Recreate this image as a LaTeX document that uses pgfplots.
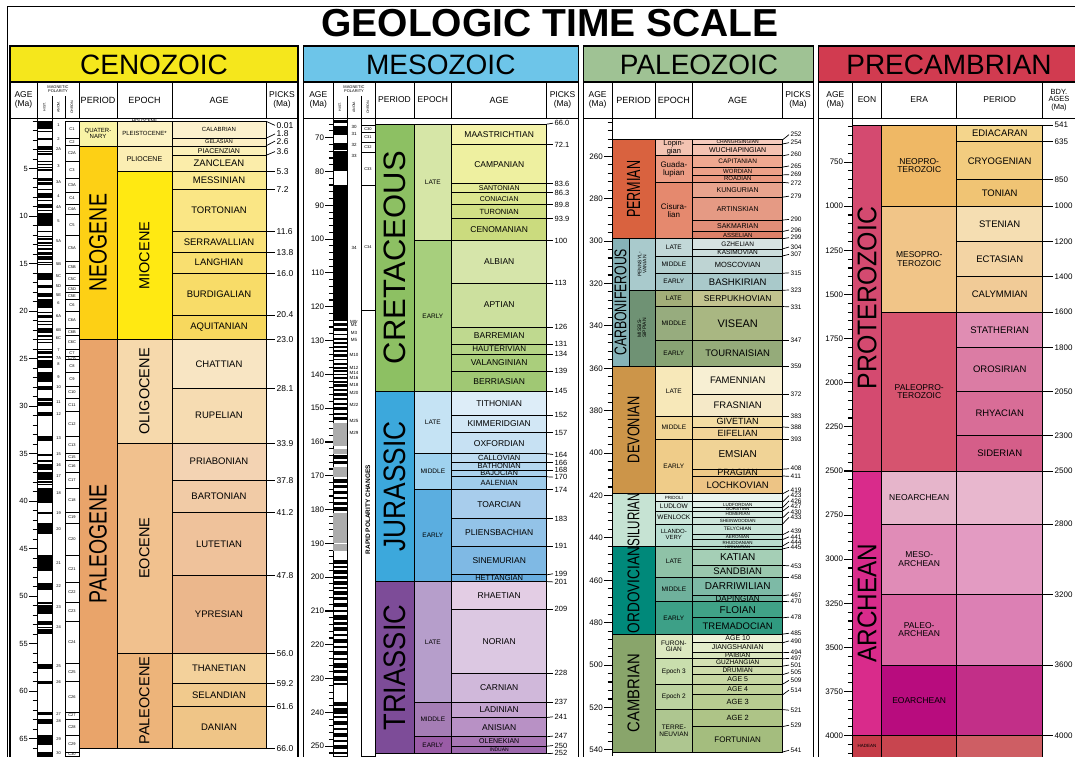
\documentclass[border=0pt]{standalone}
\usepackage{fontspec}
\setmainfont{Liberation Sans}
\usepackage{graphicx}
\usepackage{pgfplots}
\pgfplotsset{compat=1.18}

\newcommand{\fs}[1]{\fontsize{#1}{#1}\selectfont}
\newcounter{uc}
\newcommand{\R}[5]{\addplot[forget plot,#5] coordinates {(#1,#3) (#2,#3) (#2,#4) (#1,#4)} -- cycle;}
\newcommand{\U}[7]{\stepcounter{uc}%
  \edef\tmp{\noexpand\definecolor{uc\arabic{uc}}{HTML}{#5}%
    \noexpand\R{#1}{#2}{#3}{#4}{fill=uc\arabic{uc},draw=black,line width=0.7pt}}\tmp
  \path (axis cs:#1,#3) -- node[inner sep=0pt,align=center,text=black,#7]{#6} (axis cs:#2,#4);}
\newcommand{\stripes}[4]{\foreach \a/\b in {#4}{%
  \edef\tmp{\noexpand\addplot[forget plot,fill=#3,draw=none] coordinates {(#1,\a) (#2,\a) (#2,\b) (#1,\b)} -- cycle;}\tmp}}
\newcommand{\chrons}[4]{\foreach \p/\q/\nm in {#4}{%
  \edef\tmp{\noexpand\addplot[forget plot,fill=white,draw=black,line width=0.5pt] coordinates {(#1,\p) (#2,\p) (#2,\q) (#1,\q)} -- cycle;
  \noexpand\path (axis cs:#1,\p) -- node[inner sep=0pt,font=\noexpand\fs{#3}]{\nm} (axis cs:#2,\q);}\tmp}}
\newcommand{\labs}[3]{\foreach \nm/\q in {#3}{%
  \edef\tmp{\noexpand\node[inner sep=0pt,font=\noexpand\fs{#2}] at (axis cs:#1,\q) {\nm};}\tmp}}
\newcommand{\picks}[3]{\foreach \p/\q/\nm in {#3}{%
  \edef\tmp{\noexpand\draw[line width=0.7pt] (axis cs:#1,\p) -- (axis cs:#2,\q);
  \noexpand\node[anchor=west,inner sep=0pt,xshift=1.5pt,font=\noexpand\pkfont] at (axis cs:#2,\q) {\nm};}\tmp}}
\newcommand{\lab}[4]{\node[inner sep=0pt,align=center,#4] at (axis cs:#1,#2) {#3};}

\pgfplotsset{panel/.style={scale only axis, anchor=west, height=637.7pt, clip=false,
  axis x line=none, axis y line*=left, y dir=reverse, xtick=\empty,
  tick align=outside, major tick length=8pt, minor tick length=4.5pt,
  tick style={black, line width=1.1pt}, axis line style={black, line width=0.8pt},
  /pgf/number format/assume math mode=true, /pgf/number format/1000 sep={},
  yticklabel style={font=\fs{8}, inner sep=1pt}}}

\definecolor{hC}{HTML}{F5E71C}
\definecolor{hM}{HTML}{6DC5E9}
\definecolor{hP}{HTML}{9FC294}
\definecolor{hK}{HTML}{D13B50}

\begin{document}
\begin{tikzpicture}
\useasboundingbox (0,0) rectangle (1075pt,756pt);

%================ CENOZOIC =================
\def\pkfont{\fs{8.5}}
\begin{axis}[panel, at={(37pt,318.85pt)}, width=261pt, xmin=37, xmax=298, ymin=-0.3, ymax=66.83,
  ytick={5,10,...,65}, minor ytick={0,1,...,66}, yticklabel style={font=\fs{7.5}}]
\R{37}{52}{-0.3}{66.83}{fill=white,draw=black,line width=0.6pt}
\stripes{37}{52}{black}{0/0.78, 0.99/1.07, 1.78/1.95, 2.58/3.03, 3.12/3.21, 3.33/3.60, 4.19/4.30, 4.49/4.63, 4.80/4.90, 5.00/5.24, 6.03/6.25, 6.44/6.73, 7.14/7.21, 7.53/7.64, 7.70/8.11, 8.25/8.30, 8.77/9.11, 9.31/9.43, 9.65/9.72, 9.79/9.94, 9.98/11.06, 11.59/11.66, 12.05/12.17, 12.27/12.47, 12.74/12.77, 12.83/12.89, 13.03/13.18, 13.36/13.61, 13.74/14.07, 14.16/14.61, 14.78/14.87, 15.03/15.16, 15.97/16.27, 16.30/16.47, 16.54/16.72, 17.24/17.53, 18.06/18.52, 18.75/19.72, 20.04/20.21, 20.44/20.71, 21.08/21.16, 21.40/21.48, 21.77/21.94, 21.99/22.27, 22.56/22.75, 22.90/23.03, 23.23/23.30, 24.00/24.11, 24.15/24.47, 24.76/24.98, 25.10/25.26, 25.30/25.99, 26.42/27.44, 27.86/28.09, 28.14/28.28, 29.18/29.48, 29.53/29.97, 30.59/31.03, 33.16/33.71, 35.00/35.29, 35.71/35.89, 36.05/36.70, 36.97/37.75, 37.87/38.09, 38.16/38.33, 38.62/39.63, 39.70/40.15, 41.15/41.39, 42.30/43.43, 45.72/47.35, 48.57/49.34, 50.63/50.84, 50.96/51.83, 52.62/53.07, 53.20/53.27, 53.42/53.98, 57.10/57.66, 58.96/59.24, 62.22/62.52, 62.93/63.49, 64.67/65.69, 66.40/66.83}
\chrons{65}{79}{4}{0/1.78/C1, 1.78/2.58/C2, 2.58/4.19/C2A, 4.19/6.03/C3, 6.03/7.53/C3A, 7.53/8.77/C4, 8.77/9.79/C4A, 9.79/12.05/C5, 12.05/14.78/C5A, 14.78/15.97/C5B, 15.97/17.24/C5C, 17.24/18.06/C5D, 18.06/18.75/C5E, 18.75/20.04/C6, 20.04/21.77/C6A, 21.77/22.56/C6B, 22.56/24.00/C6C, 24.00/24.76/C7, 24.76/25.10/C7A, 25.10/26.42/C8, 26.42/27.86/C9, 27.86/29.18/C10, 29.18/30.59/C11, 30.59/33.16/C12, 33.16/35.00/C13, 35.00/35.71/C15, 35.71/36.97/C16, 36.97/38.62/C17, 38.62/41.15/C18, 41.15/42.30/C19, 42.30/45.72/C20, 45.72/48.57/C21, 48.57/50.63/C22, 50.63/52.62/C23, 52.62/57.10/C24, 57.10/58.96/C25, 58.96/62.22/C26, 62.22/62.93/C27, 62.93/64.67/C28, 64.67/66.40/C29, 66.40/66.83/C30}
\labs{58.5}{4}{1/0.4, 2/1.87, 2A/2.9, 3/4.7, 3A/6.4, 4/7.9, 4A/9.0, 5/10.5, 5A/12.6, 5B/15.0, 5C/16.3, 5D/17.4, 5E/18.3, 6/19.2, 6A/20.5, 6B/22.0, 6C/22.8, 7/24.1, 7A/24.9, 8/25.6, 9/26.9, 10/28.0, 11/29.6, 12/30.8, 13/33.4, 15/35.1, 16/36.2, 17/37.4, 18/39.2, 19/41.3, 20/42.9, 21/46.5, 22/48.9, 23/51.2, 24/53.3, 25/57.4, 26/59.1, 27/62.4, 28/63.2, 29/65.0, 30/66.55}
% periods
\U{79}{117}{0}{2.6}{F9F3A6}{QUATER-\\NARY}{font=\fs{6}}
\U{79}{117}{2.6}{23.0}{FDD015}{\scalebox{0.78}[1]{NEOGENE}}{rotate=90,font=\fs{25}}
\U{79}{117}{23.0}{66.0}{E9A46A}{\scalebox{0.78}[1]{PALEOGENE}}{rotate=90,font=\fs{25}}
% epochs
\U{117}{172}{0.01}{2.6}{FCF3C4}{PLEISTOCENE*}{font=\fs{6}}
\lab{144.5}{-0.02}{HOLOCENE}{font=\fs{4.5}}
\U{117}{172}{2.6}{5.3}{FBEEB3}{PLIOCENE}{font=\fs{7}}
\U{117}{172}{5.3}{23.0}{FFE912}{MIOCENE}{rotate=90,font=\fs{14.5}}
\U{117}{172}{23.0}{33.9}{F6D9AC}{OLIGOCENE}{rotate=90,font=\fs{14.5}}
\U{117}{172}{33.9}{56.0}{F1C18E}{EOCENE}{rotate=90,font=\fs{14.5}}
\U{117}{172}{56.0}{66.0}{EDB47A}{PALEOCENE}{rotate=90,font=\fs{14.5}}
% stages
\U{172}{266}{0.01}{1.8}{FCF1CD}{CALABRIAN}{font=\fs{6}}
\U{172}{266}{1.8}{2.6}{FCEFC4}{GELASIAN}{font=\fs{5.5}}
\U{172}{266}{2.6}{3.6}{FBF0B8}{PIACENZIAN}{font=\fs{7}}
\U{172}{266}{3.6}{5.3}{FBEDAA}{ZANCLEAN}{font=\fs{9.5}}
\U{172}{266}{5.3}{7.2}{FBEA92}{MESSINIAN}{font=\fs{9.5}}
\U{172}{266}{7.2}{11.6}{FAE685}{TORTONIAN}{font=\fs{9.5}}
\U{172}{266}{11.6}{13.8}{FAE27A}{SERRAVALLIAN}{font=\fs{9.5}}
\U{172}{266}{13.8}{16.0}{F9DF70}{LANGHIAN}{font=\fs{9.5}}
\U{172}{266}{16.0}{20.4}{F8DC68}{BURDIGALIAN}{font=\fs{9.5}}
\U{172}{266}{20.4}{23.0}{F7D85E}{AQUITANIAN}{font=\fs{9.5}}
\U{172}{266}{23.0}{28.1}{F8E5C3}{CHATTIAN}{font=\fs{9.5}}
\U{172}{266}{28.1}{33.9}{F6DCB2}{RUPELIAN}{font=\fs{9.5}}
\U{172}{266}{33.9}{37.8}{F3D3B3}{PRIABONIAN}{font=\fs{9.5}}
\U{172}{266}{37.8}{41.2}{F1CBA6}{BARTONIAN}{font=\fs{9.5}}
\U{172}{266}{41.2}{47.8}{EFC29B}{LUTETIAN}{font=\fs{9.5}}
\U{172}{266}{47.8}{56.0}{EBB78C}{YPRESIAN}{font=\fs{9.5}}
\U{172}{266}{56.0}{59.2}{F3D19B}{THANETIAN}{font=\fs{9.5}}
\U{172}{266}{59.2}{61.6}{F1CA8D}{SELANDIAN}{font=\fs{9.5}}
\U{172}{266}{61.6}{66.0}{EFC587}{DANIAN}{font=\fs{9.5}}
\picks{266}{275}{0.01/0.45/0.01, 1.8/1.35/1.8, 2.6/2.1/2.6, 3.6/3.2/3.6, 5.3/5.3/5.3, 7.2/7.2/7.2, 11.6/11.6/11.6, 13.8/13.8/13.8, 16.0/16.0/16.0, 20.4/20.4/20.4, 23.0/23.0/23.0, 28.1/28.1/28.1, 33.9/33.9/33.9, 37.8/37.8/37.8, 41.2/41.2/41.2, 47.8/47.8/47.8, 56.0/56.0/56.0, 59.2/59.2/59.2, 61.6/61.6/61.6, 66.0/66.0/66.0}
\end{axis}

%================ MESOZOIC =================
\def\pkfont{\fs{7.5}}
\begin{axis}[panel, at={(333.3pt,318.85pt)}, width=245pt, xmin=333.3, xmax=578.3, ymin=64.26, ymax=252.9,
  ytick={70,80,...,250}, minor ytick={66,68,...,252}]
\R{333.3}{347}{64.26}{252.9}{fill=white,draw=black,line width=0.6pt}
\stripes{333.3}{347}{gray!65}{154.3/161.3, 162.0/163.5, 167.4/170.3, 181.0/189.9, 190.2/192.4}
\stripes{333.3}{347}{black}{64.67/65.69, 66.40/68.20, 68.37/69.27, 71.45/71.69, 71.94/73.65, 73.95/74.05, 74.31/79.90, 84.0/124.2, 124.9/125.6, 126.4/127.3, 128.0/128.4, 129.1/129.9, 130.5/131.0, 131.5/132.3, 132.9/133.3, 133.9/134.9, 135.5/135.9, 136.5/137.3, 137.8/138.3, 138.8/139.4, 139.9/140.3, 140.8/141.4, 141.9/142.5, 143.0/143.6, 144.2/144.9, 145.5/146.3, 146.9/147.6, 148.4/149.0, 149.7/150.6, 151.4/152.0, 152.6/153.4, 164.0/165.0, 165.6/166.4, 171.0/172.0, 172.8/173.6, 174.5/175.5, 176.3/177.0, 177.8/178.6, 179.2/180.4, 195.0/196.0, 196.6/197.4, 198.0/199.0, 199.6/200.6, 201.2/202.2, 202.8/203.5, 204.2/205.4, 206.0/206.8, 207.6/208.8, 209.6/210.4, 211.2/212.6, 213.4/214.0, 214.8/216.0, 216.8/217.4, 218.2/219.6, 220.4/221.0, 221.8/223.0, 223.8/224.6, 225.4/226.8, 227.6/228.4, 229.2/230.6, 231.4/232.0, 236.8/238.0, 238.6/240.4, 241.2/241.8, 242.6/243.8, 244.6/245.2, 246.0/247.4, 248.2/248.8, 249.6/250.8, 251.6/252.4}
\chrons{361}{375}{4}{64.26/66.40/{}, 66.40/68.37/C30, 68.37/71.45/C31, 71.45/74.31/C32, 74.31/84.0/C33, 84.0/121.0/C34, 121.0/252.9/{}}
\labs{354}{4.5}{30/66.9, 31/68.9, 32/72.2, 33/75.5, 34/102.5, M0r/124.4, M1/125.5, M3/127.9, M5/129.7, M10/134.2, M12/138.0, M14/139.5, M16/141.1, M18/143.1, M20/145.6, M22/149.1, M25/153.8, M29/157.3}
\lab{368}{180}{\bfseries RAPID POLARITY CHANGES}{rotate=90,font=\fs{6.5}}
% periods
\U{375}{414}{66.0}{145.0}{8DC063}{CRETACEOUS}{rotate=90,font=\fs{31}}
\U{375}{414}{145.0}{201.3}{3CA8DC}{\scalebox{0.85}[1]{JURASSIC}}{rotate=90,font=\fs{31}}
\U{375}{414}{201.3}{252.2}{7D4C98}{\scalebox{0.88}[1]{TRIASSIC}}{rotate=90,font=\fs{31}}
% epochs
\U{414}{451.7}{66.0}{100.5}{D6E6A7}{LATE}{font=\fs{6.5}}
\U{414}{451.7}{100.5}{145.0}{A7CF7D}{EARLY}{font=\fs{6.5}}
\U{414}{451.7}{145.0}{163.5}{C5E3F4}{LATE}{font=\fs{6.5}}
\U{414}{451.7}{163.5}{174.1}{9FD2EF}{MIDDLE}{font=\fs{6.5}}
\U{414}{451.7}{174.1}{201.3}{5BAEE0}{EARLY}{font=\fs{6.5}}
\U{414}{451.7}{201.3}{237.0}{B69ECB}{LATE}{font=\fs{6.5}}
\U{414}{451.7}{237.0}{247.2}{A57DB5}{MIDDLE}{font=\fs{6.5}}
\U{414}{451.7}{247.2}{252.2}{9A5CA6}{EARLY}{font=\fs{6.5}}
% stages
\U{451.7}{546.7}{66.0}{72.1}{F3F2AA}{MAASTRICHTIAN}{font=\fs{8.5}}
\U{451.7}{546.7}{72.1}{83.6}{EEF0A0}{CAMPANIAN}{font=\fs{8.5}}
\U{451.7}{546.7}{83.6}{86.3}{E4EB98}{SANTONIAN}{font=\fs{7}}
\U{451.7}{546.7}{86.3}{89.8}{DCE68F}{CONIACIAN}{font=\fs{7}}
\U{451.7}{546.7}{89.8}{93.9}{D2E085}{TURONIAN}{font=\fs{7.5}}
\U{451.7}{546.7}{93.9}{100.5}{CBDB7E}{CENOMANIAN}{font=\fs{8.5}}
\U{451.7}{546.7}{100.5}{113.0}{D6E5AA}{ALBIAN}{font=\fs{8.5}}
\U{451.7}{546.7}{113.0}{126.0}{CCE09E}{APTIAN}{font=\fs{8.5}}
\U{451.7}{546.7}{126.0}{131.0}{BFD98F}{BARREMIAN}{font=\fs{8.5}}
\U{451.7}{546.7}{131.0}{134.0}{B4D385}{HAUTERIVIAN}{font=\fs{8}}
\U{451.7}{546.7}{134.0}{139.0}{AACE7C}{VALANGINIAN}{font=\fs{8.5}}
\U{451.7}{546.7}{139.0}{145.0}{A0C874}{BERRIASIAN}{font=\fs{8.5}}
\U{451.7}{546.7}{145.0}{152.1}{DDEDF8}{TITHONIAN}{font=\fs{8.5}}
\U{451.7}{546.7}{152.1}{157.3}{D2E7F5}{KIMMERIDGIAN}{font=\fs{8.5}}
\U{451.7}{546.7}{157.3}{163.5}{C7E1F3}{OXFORDIAN}{font=\fs{8.5}}
\U{451.7}{546.7}{163.5}{166.1}{BEDCF1}{CALLOVIAN}{font=\fs{7.5}}
\U{451.7}{546.7}{166.1}{168.3}{B4D7EF}{BATHONIAN}{font=\fs{7.5}}
\U{451.7}{546.7}{168.3}{170.3}{AAD2ED}{BAJOCIAN}{font=\fs{7.5}}
\U{451.7}{546.7}{170.3}{174.1}{A0CDEB}{AALENIAN}{font=\fs{7.5}}
\U{451.7}{546.7}{174.1}{182.7}{A8CDEC}{TOARCIAN}{font=\fs{8.5}}
\U{451.7}{546.7}{182.7}{190.8}{93C3E8}{PLIENSBACHIAN}{font=\fs{8.5}}
\U{451.7}{546.7}{190.8}{199.3}{7FB9E4}{SINEMURIAN}{font=\fs{8.5}}
\U{451.7}{546.7}{199.3}{201.3}{69AEE0}{HETTANGIAN}{font=\fs{7.5}}
\U{451.7}{546.7}{201.3}{209.5}{E3CDE4}{RHAETIAN}{font=\fs{8.5}}
\U{451.7}{546.7}{209.5}{228.4}{DCC8E2}{NORIAN}{font=\fs{8.5}}
\U{451.7}{546.7}{228.4}{237.0}{D0B8DA}{CARNIAN}{font=\fs{8.5}}
\U{451.7}{546.7}{237.0}{241.5}{C4A3CF}{LADINIAN}{font=\fs{8.5}}
\U{451.7}{546.7}{241.5}{247.2}{B891C5}{ANISIAN}{font=\fs{8.5}}
\U{451.7}{546.7}{247.2}{250.0}{A876B4}{OLENEKIAN}{font=\fs{7}}
\U{451.7}{546.7}{250.0}{252.2}{9D69AD}{INDUAN}{font=\fs{5}}
\picks{546.7}{553}{66.0/65.7/66.0, 72.1/72.1/72.1, 83.6/83.6/83.6, 86.3/86.3/86.3, 89.8/89.8/89.8, 93.9/93.9/93.9, 100.5/100.5/100, 113.0/113.0/113, 126.0/126.0/126, 131.0/131.0/131, 134.0/134.0/134, 139.0/139.0/139, 145.0/145.0/145, 152.1/152.1/152, 157.3/157.3/157, 163.5/163.7/164, 166.1/166.1/166, 168.3/168.3/168, 170.3/170.4/170, 174.1/174.1/174, 182.7/182.7/183, 190.8/190.8/191, 199.3/199.0/199, 201.3/201.4/201, 209.5/209.5/209, 228.4/228.4/228, 237.0/237.0/237, 241.5/241.3/241, 247.2/247.0/247, 250.0/249.8/250, 252.2/252.1/252}
\end{axis}

%================ PALEOZOIC =================
\def\pkfont{\fs{6.5}}
\begin{axis}[panel, at={(612pt,318.85pt)}, width=201.3pt, xmin=612, xmax=813.3, ymin=242.1, ymax=542.9,
  ytick={260,280,...,540}, minor ytick={244,248,...,540}]
% periods
\U{612}{655}{252.2}{298.9}{D9623F}{\scalebox{0.66}[1]{PERMIAN}}{rotate=90,font=\fs{19}}
\U{612}{629}{298.9}{358.9}{86B3B8}{\scalebox{0.72}[1]{CARBONIFEROUS}}{rotate=90,font=\fs{17}}
\U{629}{655}{298.9}{323.2}{A9CACC}{PENNSYL-\\VANIAN}{rotate=90,font=\fs{5}}
\U{629}{655}{323.2}{358.9}{6F9274}{MISSIS-\\SIPPIAN}{rotate=90,font=\fs{5}}
\U{612}{655}{358.9}{419.2}{CC9549}{\scalebox{0.75}[1]{DEVONIAN}}{rotate=90,font=\fs{17}}
\U{612}{655}{419.2}{443.8}{C6E3D3}{\scalebox{0.68}[1]{SILURIAN}}{rotate=90,font=\fs{17}}
\U{612}{655}{443.8}{485.4}{00897A}{\scalebox{0.8}[1]{ORDOVICIAN}}{rotate=90,font=\fs{17}}
\U{612}{655}{485.4}{541.0}{89A56B}{\scalebox{0.87}[1]{CAMBRIAN}}{rotate=90,font=\fs{17}}
% epochs
\U{655}{692.7}{252.2}{259.8}{F4C3B2}{Lopin-\\gian}{font=\fs{7.5}}
\U{655}{692.7}{259.8}{272.3}{EC9C84}{Guada-\\lupian}{font=\fs{8}}
\U{655}{692.7}{272.3}{298.9}{E5896E}{Cisura-\\lian}{font=\fs{8}}
\U{655}{692.7}{298.9}{307.0}{C2D8D8}{LATE}{font=\fs{6.5}}
\U{655}{692.7}{307.0}{315.2}{B2CFCE}{MIDDLE}{font=\fs{6.5}}
\U{655}{692.7}{315.2}{323.2}{A5C6C7}{EARLY}{font=\fs{6.5}}
\U{655}{692.7}{323.2}{330.9}{A3AE79}{LATE}{font=\fs{6.5}}
\U{655}{692.7}{330.9}{346.7}{97AC7E}{MIDDLE}{font=\fs{6.5}}
\U{655}{692.7}{346.7}{358.9}{88A474}{EARLY}{font=\fs{6.5}}
\U{655}{692.7}{358.9}{382.7}{F7E8B9}{LATE}{font=\fs{6.5}}
\U{655}{692.7}{382.7}{393.3}{F2D797}{MIDDLE}{font=\fs{6.5}}
\U{655}{692.7}{393.3}{419.2}{EFCC89}{EARLY}{font=\fs{6.5}}
\U{655}{692.7}{419.2}{423.0}{E5F1EA}{PRIDOLI}{font=\fs{4.5}}
\U{655}{692.7}{423.0}{427.4}{D4EAE0}{LUDLOW}{font=\fs{6.5}}
\U{655}{692.7}{427.4}{433.4}{CAE5D9}{WENLOCK}{font=\fs{6.5}}
\U{655}{692.7}{433.4}{443.8}{BADFD2}{LLANDO-\\VERY}{font=\fs{6}}
\U{655}{692.7}{443.8}{458.4}{8FC2A7}{LATE}{font=\fs{6.5}}
\U{655}{692.7}{458.4}{470.0}{6FB19C}{MIDDLE}{font=\fs{6.5}}
\U{655}{692.7}{470.0}{485.4}{3DA087}{EARLY}{font=\fs{6.5}}
\U{655}{692.7}{485.4}{497.0}{DCE8C0}{FURON-\\GIAN}{font=\fs{6.5}}
\U{655}{692.7}{497.0}{509.0}{C9DEAD}{Epoch 3}{font=\fs{6.5}}
\U{655}{692.7}{509.0}{521.0}{BCD3A0}{Epoch 2}{font=\fs{6.5}}
\U{655}{692.7}{521.0}{541.0}{AEC690}{TERRE-\\NEUVIAN}{font=\fs{6.5}}
% stages
\U{692.7}{782.7}{252.2}{254.2}{F6CBBD}{CHANGHSINGIAN}{font=\fs{5}}
\U{692.7}{782.7}{254.2}{259.8}{F4C2B1}{WUCHIAPINGIAN}{font=\fs{7}}
\U{692.7}{782.7}{259.8}{265.1}{EFA890}{CAPITANIAN}{font=\fs{6.5}}
\U{692.7}{782.7}{265.1}{268.8}{ECA088}{WORDIAN}{font=\fs{6}}
\U{692.7}{782.7}{268.8}{272.3}{EA9880}{ROADIAN}{font=\fs{6}}
\U{692.7}{782.7}{272.3}{279.3}{E8A48E}{KUNGURIAN}{font=\fs{7}}
\U{692.7}{782.7}{279.3}{290.1}{E59A84}{ARTINSKIAN}{font=\fs{7}}
\U{692.7}{782.7}{290.1}{295.5}{E18E78}{SAKMARIAN}{font=\fs{7}}
\U{692.7}{782.7}{295.5}{298.9}{DC8068}{ASSELIAN}{font=\fs{6}}
\U{692.7}{782.7}{298.9}{303.7}{D7E3E2}{GZHELIAN}{font=\fs{6.5}}
\U{692.7}{782.7}{303.7}{307.0}{CCDDDC}{KASIMOVIAN}{font=\fs{6.5}}
\U{692.7}{782.7}{307.0}{315.2}{BED4D3}{MOSCOVIAN}{font=\fs{7.5}}
\U{692.7}{782.7}{315.2}{323.2}{A9C9CA}{BASHKIRIAN}{font=\fs{9.5}}
\U{692.7}{782.7}{323.2}{330.9}{C2C38F}{SERPUKHOVIAN}{font=\fs{8.5}}
\U{692.7}{782.7}{330.9}{346.7}{A9B782}{VISEAN}{font=\fs{11}}
\U{692.7}{782.7}{346.7}{358.9}{95AB7A}{TOURNAISIAN}{font=\fs{9.5}}
\U{692.7}{782.7}{358.9}{372.2}{F7EFD3}{FAMENNIAN}{font=\fs{9.5}}
\U{692.7}{782.7}{372.2}{382.7}{F5E9C8}{FRASNIAN}{font=\fs{9.5}}
\U{692.7}{782.7}{382.7}{387.7}{F3DCA2}{GIVETIAN}{font=\fs{9}}
\U{692.7}{782.7}{387.7}{393.3}{F1D498}{EIFELIAN}{font=\fs{9}}
\U{692.7}{782.7}{393.3}{407.6}{F0D396}{EMSIAN}{font=\fs{10}}
\U{692.7}{782.7}{407.6}{410.8}{EEC988}{PRAGIAN}{font=\fs{9}}
\U{692.7}{782.7}{410.8}{419.2}{EDC485}{LOCHKOVIAN}{font=\fs{9.5}}
\U{692.7}{782.7}{419.2}{423.0}{EBF4EE}{}{font=\fs{4.5}}
\U{692.7}{782.7}{423.0}{425.6}{E1EFE7}{LUDFORDIAN}{font=\fs{4.5}}
\U{692.7}{782.7}{425.6}{427.4}{DAECE3}{GORSTIAN}{font=\fs{4.5}}
\U{692.7}{782.7}{427.4}{430.5}{D5E9DF}{HOMERIAN}{font=\fs{4.5}}
\U{692.7}{782.7}{430.5}{433.4}{CDE5DA}{SHEINWOODIAN}{font=\fs{4.5}}
\U{692.7}{782.7}{433.4}{438.5}{C9E4D8}{TELYCHIAN}{font=\fs{5}}
\U{692.7}{782.7}{438.5}{440.8}{C1E0D3}{AERONIAN}{font=\fs{4.5}}
\U{692.7}{782.7}{440.8}{443.8}{B9DCCE}{RHUDDANIAN}{font=\fs{4.5}}
\U{692.7}{782.7}{443.8}{445.2}{A8D4BF}{HIRNANTIAN}{font=\fs{4}}
\U{692.7}{782.7}{445.2}{453.0}{A5CFB6}{KATIAN}{font=\fs{10}}
\U{692.7}{782.7}{453.0}{458.4}{9AC7AE}{SANDBIAN}{font=\fs{9.5}}
\U{692.7}{782.7}{458.4}{467.3}{7DBAA6}{DARRIWILIAN}{font=\fs{10}}
\U{692.7}{782.7}{467.3}{470.0}{6DB39D}{DAPINGIAN}{font=\fs{8}}
\U{692.7}{782.7}{470.0}{477.7}{40A287}{FLOIAN}{font=\fs{10}}
\U{692.7}{782.7}{477.7}{485.4}{309A80}{TREMADOCIAN}{font=\fs{9.5}}
\U{692.7}{782.7}{485.4}{489.5}{EDF2D8}{AGE 10}{font=\fs{7}}
\U{692.7}{782.7}{489.5}{494.0}{E3ECCA}{JIANGSHANIAN}{font=\fs{7}}
\U{692.7}{782.7}{494.0}{497.0}{DAE6BE}{PAIBIAN}{font=\fs{6.5}}
\U{692.7}{782.7}{497.0}{500.5}{D4E1B4}{GUZHANGIAN}{font=\fs{6.5}}
\U{692.7}{782.7}{500.5}{504.5}{CEDCAB}{DRUMIAN}{font=\fs{6.5}}
\U{692.7}{782.7}{504.5}{509.0}{C7D7A3}{AGE 5}{font=\fs{7}}
\U{692.7}{782.7}{509.0}{514.0}{C0D29A}{AGE 4}{font=\fs{7}}
\U{692.7}{782.7}{514.0}{521.0}{B8CC91}{AGE 3}{font=\fs{7.5}}
\U{692.7}{782.7}{521.0}{529.0}{AEC487}{AGE 2}{font=\fs{7.5}}
\U{692.7}{782.7}{529.0}{541.0}{A4BD7E}{FORTUNIAN}{font=\fs{8}}
\picks{782.7}{789}{252.2/249.8/252, 254.2/253.6/254, 259.8/259.2/260, 265.1/264.6/265, 268.8/268.7/269, 272.3/272.6/272, 279.3/278.8/279, 290.1/289.8/290, 295.5/294.8/296, 298.9/298.4/299, 303.7/302.8/304, 307.0/306.3/307, 315.2/315.0/315, 323.2/323.1/323, 330.9/331.0/331, 346.7/346.7/347, 358.9/358.9/359, 372.2/372.2/372, 382.7/382.7/383, 387.7/387.9/388, 393.3/393.3/393, 407.6/407.4/408, 410.8/411.0/411, 419.2/417.6/419, 423.0/420.1/423, 425.6/422.6/426, 427.4/425.1/427, 430.5/427.7/430, 433.4/430.3/433, 438.5/437.0/439, 440.8/439.5/441, 443.8/442.0/444, 445.2/444.5/445, 453.0/453.2/453, 458.4/458.4/458, 467.3/466.9/467, 470.0/470.1/470, 477.7/477.4/478, 485.4/485.0/485, 489.5/488.6/490, 494.0/494.1/494, 497.0/496.9/497, 500.5/500.0/501, 504.5/503.6/505, 509.0/507.2/509, 514.0/511.8/514, 521.0/521.3/521, 529.0/528.4/529, 541.0/540.2/541}
\end{axis}

%================ PRECAMBRIAN =================
\def\pkfont{\fs{8}}
\begin{axis}[panel, at={(852.3pt,318.85pt)}, width=222.7pt, xmin=852.3, xmax=1075, ymin=502, ymax=4115,
  ytick={750,1000,...,4000}, minor ytick={550,600,...,4100}]
% eons
\U{852.3}{881.7}{541}{2500}{D44A70}{\scalebox{0.92}[1]{PROTEROZOIC}}{rotate=90,font=\fs{27}}
\U{852.3}{881.7}{2500}{4000}{D92B8B}{\scalebox{0.9}[1]{ARCHEAN}}{rotate=90,font=\fs{27}}
\U{852.3}{881.7}{4000}{4600}{C53C48}{}{font=\fs{4}}
\lab{867}{4057}{HADEAN}{font=\fs{4.5}}
% eras
\U{881.7}{956.7}{541}{1000}{EFB865}{NEOPRO-\\TEROZOIC}{font=\fs{8.5}}
\U{881.7}{956.7}{1000}{1600}{F1C588}{MESOPRO-\\TEROZOIC}{font=\fs{8.5}}
\U{881.7}{956.7}{1600}{2500}{D6546F}{PALEOPRO-\\TEROZOIC}{font=\fs{8.5}}
\U{881.7}{956.7}{2500}{2800}{E6B5CB}{NEOARCHEAN}{font=\fs{8.5}}
\U{881.7}{956.7}{2800}{3200}{E08CB7}{MESO-\\ARCHEAN}{font=\fs{8.5}}
\U{881.7}{956.7}{3200}{3600}{D966A1}{PALEO-\\ARCHEAN}{font=\fs{8.5}}
\U{881.7}{956.7}{3600}{4000}{B80C7E}{EOARCHEAN}{font=\fs{8.5}}
\U{881.7}{956.7}{4000}{4600}{C8454F}{}{font=\fs{4}}
% periods
\U{956.7}{1042.7}{541}{635}{F4D58C}{EDIACARAN}{font=\fs{9.5}}
\U{956.7}{1042.7}{635}{850}{F2CC7F}{CRYOGENIAN}{font=\fs{9.5}}
\U{956.7}{1042.7}{850}{1000}{F0C474}{TONIAN}{font=\fs{9.5}}
\U{956.7}{1042.7}{1000}{1200}{F5DEB2}{STENIAN}{font=\fs{9.5}}
\U{956.7}{1042.7}{1200}{1400}{F3D4A4}{ECTASIAN}{font=\fs{9.5}}
\U{956.7}{1042.7}{1400}{1600}{F1CB97}{CALYMMIAN}{font=\fs{9.5}}
\U{956.7}{1042.7}{1600}{1800}{E08DB3}{STATHERIAN}{font=\fs{9.5}}
\U{956.7}{1042.7}{1800}{2050}{DB7CA4}{OROSIRIAN}{font=\fs{9.5}}
\U{956.7}{1042.7}{2050}{2300}{D86D97}{RHYACIAN}{font=\fs{9.5}}
\U{956.7}{1042.7}{2300}{2500}{D55E89}{SIDERIAN}{font=\fs{9.5}}
\U{956.7}{1042.7}{2500}{2800}{E8B7CE}{}{font=\fs{4}}
\U{956.7}{1042.7}{2800}{3200}{E39BC2}{}{font=\fs{4}}
\U{956.7}{1042.7}{3200}{3600}{DC80B4}{}{font=\fs{4}}
\U{956.7}{1042.7}{3600}{4000}{C22F88}{}{font=\fs{4}}
\U{956.7}{1042.7}{4000}{4600}{CE5E64}{}{font=\fs{4}}
\picks{1042.7}{1053}{541/541/541, 635/635/635, 850/850/850, 1000/1000/1000, 1200/1200/1200, 1400/1400/1400, 1600/1600/1600, 1800/1800/1800, 2050/2050/2050, 2300/2300/2300, 2500/2500/2500, 2800/2800/2800, 3200/3200/3200, 3600/3600/3600, 4000/4000/4000}
\end{axis}

%================ FRAMES AND HEADERS =================
\begin{scope}[x=1pt,y=-1pt,yshift=756pt]
\draw[line width=1.3pt] (7.5,760) -- (7.5,6.7) -- (1080,6.7);
\node[font=\fs{39}\bfseries] at (550,23) {GEOLOGIC TIME SCALE};
% Cenozoic
\filldraw[fill=hC,draw=black,line width=1.3pt] (10,46) rectangle (298,82);
\node[font=\fs{28}] at (154,64.5) {CENOZOIC};
\draw[line width=1pt] (10,82) rectangle (298,118.3);
\foreach \x in {37,79,117,172,266} \draw[line width=0.8pt] (\x,82) -- (\x,118.3);
\foreach \x in {52,65} \draw[line width=0.5pt] (\x,96) -- (\x,118.3);
\draw[line width=1.2pt] (10,82) -- (10,760) (298,82) -- (298,760);
\node[font=\fs{8.5},align=center] at (23.5,100) {AGE\\(Ma)};
\node[font=\fs{4},align=center] at (58,89) {MAGNETIC\\POLARITY};
\node[font=\fs{3.5},rotate=90] at (44.5,107) {HIST.};
\node[font=\fs{3.5},rotate=90] at (58.5,107) {ANOM.};
\node[font=\fs{3.5},rotate=90] at (72,107) {CHRON.};
\node[font=\fs{9}] at (98,100) {PERIOD};
\node[font=\fs{9}] at (144.5,100) {EPOCH};
\node[font=\fs{9}] at (219,100) {AGE};
\node[font=\fs{8.5},align=center] at (282,100) {PICKS\\(Ma)};
% Mesozoic
\filldraw[fill=hM,draw=black,line width=1.3pt] (303.3,46) rectangle (578.3,82);
\node[font=\fs{28}] at (440.8,64.5) {MESOZOIC};
\draw[line width=1pt] (303.3,82) rectangle (578.3,118.3);
\foreach \x in {333.3,375,414,451.7,546.7} \draw[line width=0.8pt] (\x,82) -- (\x,118.3);
\foreach \x in {347,361} \draw[line width=0.5pt] (\x,96) -- (\x,118.3);
\draw[line width=1.2pt] (303.3,82) -- (303.3,760) (578.3,82) -- (578.3,760);
\node[font=\fs{8.5},align=center] at (318.3,100) {AGE\\(Ma)};
\node[font=\fs{4},align=center] at (354,89) {MAGNETIC\\POLARITY};
\node[font=\fs{3.5},rotate=90] at (340,107) {HIST.};
\node[font=\fs{3.5},rotate=90] at (354,107) {ANOM.};
\node[font=\fs{3.5},rotate=90] at (368,107) {CHRON.};
\node[font=\fs{8.5}] at (394.5,100) {PERIOD};
\node[font=\fs{8.5}] at (432.8,100) {EPOCH};
\node[font=\fs{9}] at (499.2,100) {AGE};
\node[font=\fs{8.5},align=center] at (562.5,100) {PICKS\\(Ma)};
% Paleozoic
\filldraw[fill=hP,draw=black,line width=1.3pt] (583.3,46) rectangle (813.3,82);
\node[font=\fs{28}] at (699,64.5) {PALEOZOIC};
\draw[line width=1pt] (583.3,82) rectangle (813.3,118.3);
\foreach \x in {612,655,692.7,782.7} \draw[line width=0.8pt] (\x,82) -- (\x,118.3);
\draw[line width=1.2pt] (583.3,82) -- (583.3,760) (813.3,82) -- (813.3,760);
\node[font=\fs{8.5},align=center] at (597.6,100) {AGE\\(Ma)};
\node[font=\fs{9}] at (633.5,100) {PERIOD};
\node[font=\fs{9}] at (673.8,100) {EPOCH};
\node[font=\fs{9}] at (737.7,100) {AGE};
\node[font=\fs{8.5},align=center] at (798,100) {PICKS\\(Ma)};
% Precambrian
\filldraw[fill=hK,draw=black,line width=1.3pt] (818.3,46) rectangle (1085,82);
\node[font=\fs{28}] at (949,64.5) {PRECAMBRIAN};
\draw[line width=1pt] (818.3,82) rectangle (1085,118.3);
\foreach \x in {852.3,881.7,956.7,1042.7} \draw[line width=0.8pt] (\x,82) -- (\x,118.3);
\draw[line width=1.2pt] (818.3,82) -- (818.3,760);
\node[font=\fs{8.5},align=center] at (835.3,100) {AGE\\(Ma)};
\node[font=\fs{8.5}] at (867,100) {EON};
\node[font=\fs{8.5}] at (919.2,100) {ERA};
\node[font=\fs{8.5}] at (999.7,100) {PERIOD};
\node[font=\fs{7.5},align=center] at (1059,100) {BDY.\\AGES\\(Ma)};
\end{scope}
\end{tikzpicture}
\end{document}
